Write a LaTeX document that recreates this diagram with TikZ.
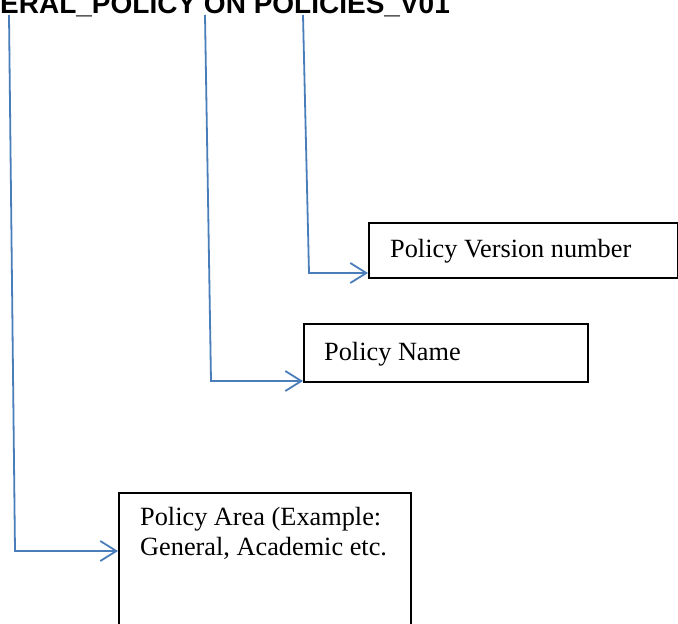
\documentclass[tikz,border=0pt]{standalone}
\usepackage{fontspec}
\setmainfont{Liberation Serif}
\newfontfamily\titlefont{Liberation Sans}
\usetikzlibrary{arrows.meta}
\definecolor{connblue}{HTML}{4A7EBB}
\tikzset{
  box/.style={draw=black, line width=1.6pt, rectangle, inner sep=0pt, anchor=north west},
  conn/.style={draw=connblue, line width=1.8pt, -{Straight Barb[length=16pt,width=20pt,line width=1.8pt]}},
  boxtext/.style={anchor=base west, inner sep=0pt, font=\fontsize{26.3}{30}\selectfont, align=left},
  titletext/.style={anchor=base west, inner sep=0pt, font=\titlefont\bfseries\fontsize{28}{32}\selectfont}
}
\begin{document}
\begin{tikzpicture}[x=1pt,y=-1pt]
\useasboundingbox (0,0) rectangle (678,624);
\clip (0,0) rectangle (678,624);
\fill[white] (0,0) rectangle (678,624);
\node[titletext] (title) at (0,13) {ERAL\_POLICY ON POLICIES\_V01};
% boxes
\node[box, minimum width=309pt, minimum height=55pt] (b3) at (368,222) {};
\node[box, minimum width=284pt, minimum height=58pt] (b2) at (303,323) {};
\node[box, minimum width=292pt, minimum height=160pt] (b1) at (118,492) {};
% texts
\node[boxtext] (t3) at (390,257) {Policy Version number};
\node[boxtext] (t2) at (324,360) {Policy Name};
\node[boxtext] (t1a) at (140,525) {Policy Area (Example:};
\node[boxtext] (t1b) at (140,555) {General, Academic etc.};
% connector coordinates
\coordinate (s1) at (9,15);
\coordinate (k1) at (15,551);
\coordinate (s2) at (205,15);
\coordinate (k2) at (211,381);
\coordinate (s3) at (303,15);
\coordinate (k3) at (309,273);
\draw[conn] (s1) -- (k1) -- (k1 -| b1.west);
\draw[conn] (s2) -- (k2) -- (k2 -| b2.west);
\draw[conn] (s3) -- (k3) -- (k3 -| b3.west);
\end{tikzpicture}
\end{document}
